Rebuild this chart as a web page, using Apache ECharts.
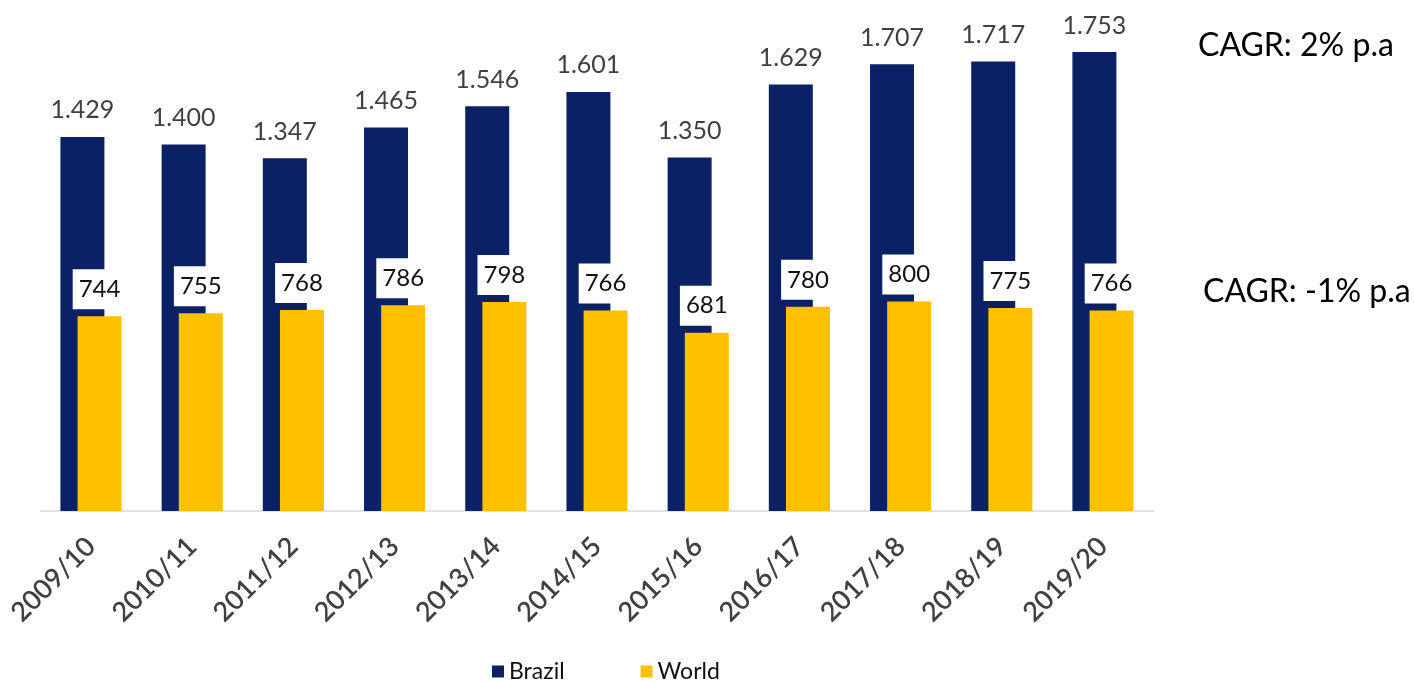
<!DOCTYPE html>
<html>
<head>
<meta charset="utf-8">
<script src="https://cdn.jsdelivr.net/npm/echarts@6/dist/echarts.min.js"></script>
<style>
  html, body { margin: 0; padding: 0; background: #ffffff; }
  #chart { width: 1414px; height: 682px; }
</style>
</head>
<body>
<div id="chart"></div>
<script>
// Crop years (x axis categories)
const categories = ['2009/10', '2010/11', '2011/12', '2012/13', '2013/14', '2014/15',
                    '2015/16', '2016/17', '2017/18', '2018/19', '2019/20'];
// Brazil values
const brazil = [1429, 1400, 1347, 1465, 1546, 1601, 1350, 1629, 1707, 1717, 1753];
// World values
const world = [744, 755, 768, 786, 798, 766, 681, 780, 800, 775, 766];
// Growth notes shown at the right
const cagrBrazil = 'CAGR: 2% p.a';
const cagrWorld = 'CAGR: -1% p.a';

const FONT = 'Lato, "Open Sans", sans-serif';
const NAVY = '#0b2166';
const GOLD = '#ffc000';

// thousands separator as a dot
function fmtDot(v) {
  return String(v).replace(/\B(?=(\d{3})+(?!\d))/g, '.');
}

const chart = echarts.init(document.getElementById('chart'));
chart.setOption({
  animation: false,
  backgroundColor: '#ffffff',
  grid: { left: 40.4, right: 260.4, top: 13.6, bottom: 171 },
  legend: {
    data: ['Brazil', 'World'],
    left: 487,
    top: 655,
    padding: [5, 5, 0, 5],
    icon: 'rect',
    itemWidth: 12,
    itemHeight: 12,
    itemGap: 76,
    itemStyle: { borderWidth: 0 },
    textStyle: { fontFamily: FONT, fontSize: 23, color: '#111111' }
  },
  xAxis: {
    type: 'category',
    data: categories,
    axisLine: { lineStyle: { color: '#d9d9d9', width: 1.5 } },
    axisTick: { show: false },
    axisLabel: {
      rotate: 45,
      margin: 31,
      fontFamily: FONT,
      fontSize: 27,
      fontWeight: 600,
      color: '#404040'
    }
  },
  yAxis: {
    type: 'value',
    min: 0,
    max: 1900,
    show: false,
    splitLine: { show: false }
  },
  series: [
    {
      name: 'Brazil',
      type: 'bar',
      data: brazil,
      barWidth: 44,
      barGap: '-61%',
      itemStyle: { color: NAVY },
      label: {
        show: true,
        position: 'top',
        distance: 14,
        fontFamily: FONT,
        fontSize: 25,
        color: '#404040',
        formatter: p => fmtDot(p.value)
      }
    },
    {
      name: 'World',
      type: 'bar',
      data: world,
      barWidth: 44,
      itemStyle: { color: GOLD },
      label: {
        show: true,
        position: 'top',
        distance: 7,
        fontFamily: FONT,
        fontSize: 24,
        color: '#111111',
        backgroundColor: '#ffffff',
        padding: [8, 6, 8, 6],
        formatter: p => fmtDot(p.value)
      }
    }
  ],
  graphic: [
    {
      type: 'text',
      left: 1198,
      top: 30,
      style: { text: cagrBrazil, font: '32px ' + FONT, fill: '#000000' }
    },
    {
      type: 'text',
      left: 1203,
      top: 276,
      style: { text: cagrWorld, font: '32px ' + FONT, fill: '#000000' }
    }
  ]
});
</script>
</body>
</html>
